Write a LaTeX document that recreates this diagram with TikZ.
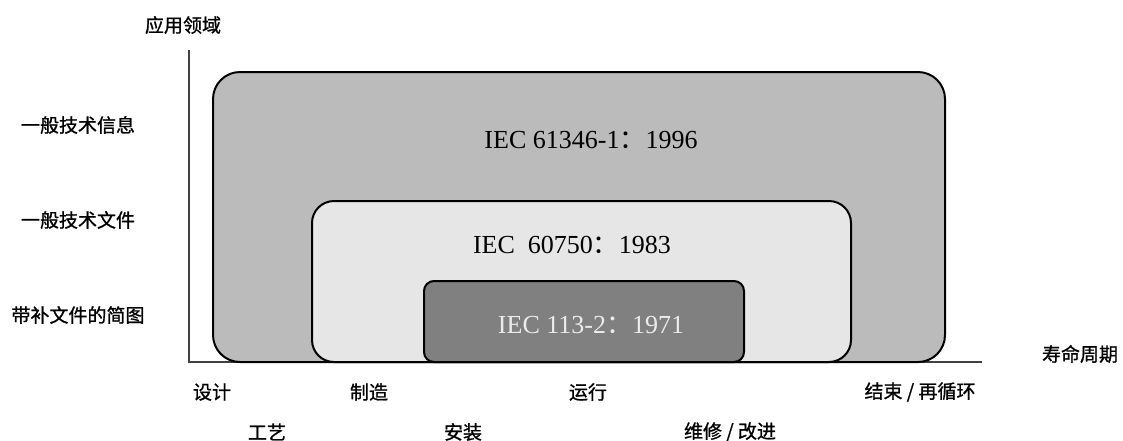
\documentclass[tikz,border=0pt]{standalone}
\usepackage{fontspec}
\setmainfont{Liberation Serif}
\newfontfamily\cjk{Noto Sans CJK SC}[FakeBold=1]
\newfontfamily\cjkcolon{Noto Sans CJK SC}
\definecolor{outerfill}{HTML}{BBBBBB}
\definecolor{midfill}{HTML}{E6E6E6}
\definecolor{innerfill}{HTML}{808080}
\definecolor{axiscol}{HTML}{404040}
\begin{document}
\begin{tikzpicture}[x=1pt,y=-1pt,
  box/.style={draw=black, line width=2pt, inner sep=0pt, outer sep=0pt},
  lbl/.style={font=\cjk\fontsize{19}{21}\selectfont, inner sep=0pt},
  iec/.style={font=\fontsize{26}{28}\selectfont, inner sep=0pt}]
\useasboundingbox (0,0) rectangle (1123,440);
\coordinate (ytop) at (189,50);
\coordinate (origin) at (189,362);
\coordinate (xend) at (982,362);
\draw[axiscol, line width=1.5pt] (ytop) -- (origin) -- (xend);
\node[box, fill=outerfill, rounded corners=27pt, minimum width=732pt, minimum height=290pt] (outer) at (579,217) {};
\node[box, fill=midfill, rounded corners=22pt, minimum width=539pt, minimum height=161pt] (mid) at (581.5,281.5) {};
\node[box, fill=innerfill, rounded corners=10pt, minimum width=320pt, minimum height=81pt] (inner) at (584,321.5) {};
\node[iec] (t1) at (591,140) {IEC 61346-1{\cjkcolon：}1996};
\node[iec] (t2) at (572,245) {IEC\ \ 60750{\cjkcolon：}1983};
\node[iec, text=white!92!black] (t3) at (591,325) {IEC 113-2{\cjkcolon：}1971};
\node[lbl] (yl) at (183,25) {应用领域};
\node[lbl] (a1) at (78,125) {一般技术信息};
\node[lbl] (a2) at (78,220) {一般技术文件};
\node[lbl] (a3) at (78,315) {带补文件的简图};
\node[lbl] (xl) at (1080,354) {寿命周期};
\node[lbl] (b1) at (212,392) {设计};
\node[lbl] (b2) at (369,392) {制造};
\node[lbl] (b3) at (588,392) {运行};
\node[lbl] (b4) at (920,392) {结束 / 再循环};
\node[lbl] (c1) at (267,432) {工艺};
\node[lbl] (c2) at (463,432) {安装};
\node[lbl] (c3) at (730,432) {维修 / 改进};
\end{tikzpicture}
\end{document}
